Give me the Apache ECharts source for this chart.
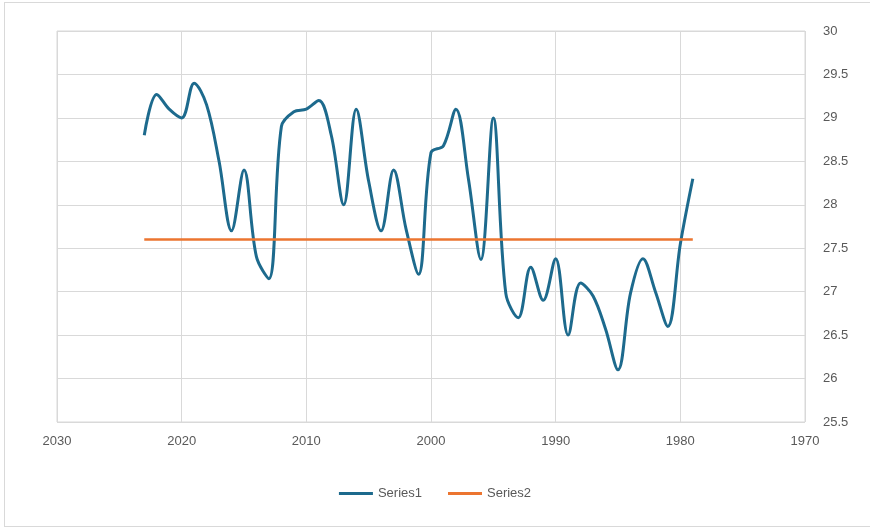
<!DOCTYPE html>
<html>
<head>
<meta charset="utf-8">
<script src="https://cdn.jsdelivr.net/npm/echarts@6/dist/echarts.min.js"></script>
<style>
    html, body { margin: 0; padding: 0; background: #fff; }
    .box { position: absolute; left: 4px; top: 2px; width: 870px; height: 525px; border: 1px solid #d9d9d9; box-sizing: border-box; }
    #line-chart { position: absolute; left: 0; top: 0; width: 870px; height: 531px; }
</style>
</head>
<body>
<div class="box"></div>
<div id="line-chart"></div>
<script>
// years run 2023 -> 1979
const years = [2023, 2022, 2021, 2020, 2019, 2018, 2017, 2016, 2015, 2014,
    2013, 2012, 2011, 2010, 2009, 2008, 2007, 2006, 2005, 2004,
    2003, 2002, 2001, 2000, 1999, 1998, 1997, 1996, 1995, 1994,
    1993, 1992, 1991, 1990, 1989, 1988, 1987, 1986, 1985, 1984,
    1983, 1982, 1981, 1980, 1979];
const series1 = [28.8, 29.27, 29.1, 29.0, 29.4, 29.15, 28.5, 27.7, 28.4, 27.4,
    27.15, 28.9, 29.07, 29.1, 29.2, 28.8, 28.0, 29.1, 28.27, 27.7,
    28.4, 27.72, 27.2, 28.6, 28.68, 29.1, 28.3, 27.37, 29.0, 26.98,
    26.7, 27.28, 26.9, 27.38, 26.5, 27.1, 26.95, 26.57, 26.1, 26.98,
    27.38, 27.0, 26.6, 27.55, 28.3];
const series2Value = 27.6;
const xTicks = { min: 1970, max: 2030, interval: 10 };
const yTicks = { min: 25.5, max: 30, interval: 0.5 };

const chart = echarts.init(document.getElementById('line-chart'), null, { renderer: 'canvas' });
const labelStyle = { color: '#595959', fontSize: 13, fontFamily: 'Liberation Sans, Arial, sans-serif' };

chart.setOption({
    animation: false,
    grid: {
        left: 57,
        right: 65,
        top: 31,
        bottom: 109,
        show: true,
        borderColor: '#d9d9d9',
        borderWidth: 1
    },
    legend: {
        bottom: 26,
        left: 'center',
        itemWidth: 34,
        itemHeight: 3,
        itemGap: 26,
        icon: 'rect',
        textStyle: labelStyle,
        data: ['Series1', 'Series2']
    },
    xAxis: {
        type: 'value',
        inverse: true,
        min: xTicks.min,
        max: xTicks.max,
        interval: xTicks.interval,
        axisLine: { show: false },
        axisTick: { show: false },
        axisLabel: Object.assign({ margin: 13, formatter: v => String(v) }, labelStyle),
        splitLine: { show: true, lineStyle: { color: '#d9d9d9', width: 1 } }
    },
    yAxis: {
        type: 'value',
        position: 'right',
        min: yTicks.min,
        max: yTicks.max,
        interval: yTicks.interval,
        axisLine: { show: false },
        axisTick: { show: false },
        axisLabel: Object.assign({ margin: 18 }, labelStyle),
        splitLine: { show: true, lineStyle: { color: '#d9d9d9', width: 1 } }
    },
    series: [{
        name: 'Series1',
        type: 'line',
        smooth: 0.35,
        symbol: 'none',
        data: years.map((y, i) => [y, series1[i]]),
        lineStyle: { color: '#1d6a8d', width: 3 },
        itemStyle: { color: '#1d6a8d' }
    }, {
        name: 'Series2',
        type: 'line',
        symbol: 'none',
        data: years.map(y => [y, series2Value]),
        lineStyle: { color: '#ec7530', width: 2.5 },
        itemStyle: { color: '#ec7530' }
    }]
});
</script>
</body>
</html>
